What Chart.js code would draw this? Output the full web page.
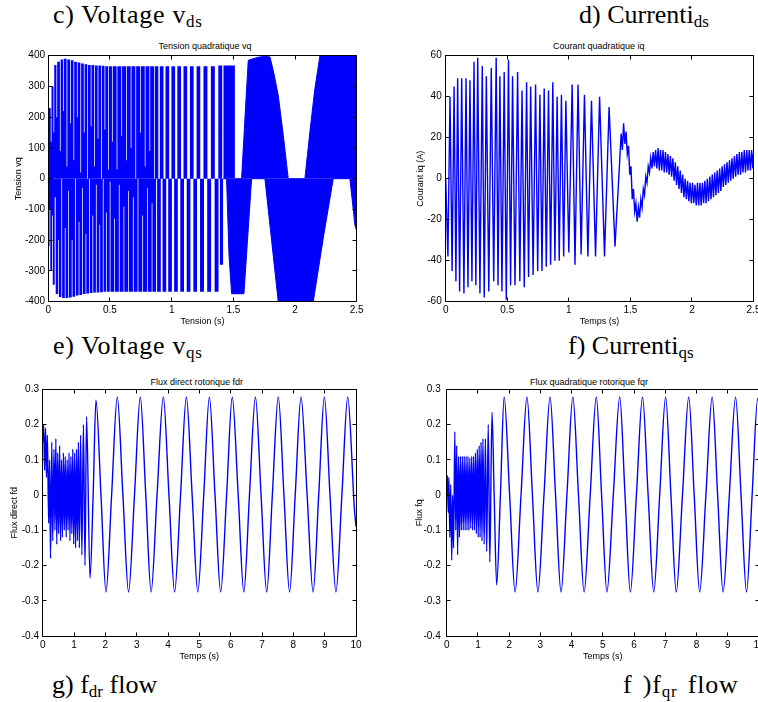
<!DOCTYPE html>
<html lang="fr">
<head>
<meta charset="utf-8">
<script src="https://cdn.jsdelivr.net/npm/chart.js@4.4.0/dist/chart.umd.min.js"></script>
<style>
  html, body { margin: 0; padding: 0; background: #fff; overflow: hidden; }
  #figure { position: relative; width: 758px; height: 702px; overflow: hidden; }
  canvas { position: absolute; }
  .legende { position: absolute; font-family: "Liberation Serif", "Times New Roman", serif; font-size: 26px; line-height: 26px; white-space: nowrap; color: #000; }
  .legende sub { font-size: 17px; vertical-align: -4px; line-height: 0; }
  .titre { position: absolute; width: 200px; font-family: "Liberation Sans", Arial, sans-serif; font-size: 9px; line-height: 9px; text-align: center; white-space: nowrap; color: #000; }
</style>
</head>
<body>
<div id="figure">
  <div class="legende" style="left:53px;top:2px;letter-spacing:0.7px">c) Voltage v<sub>ds</sub></div>
  <div class="legende" style="left:579px;top:2px">d) Currenti<sub>ds</sub></div>
  <div class="legende" style="left:53px;top:333px;letter-spacing:0.7px">e) Voltage v<sub>qs</sub></div>
  <div class="legende" style="left:568px;top:333px">f) Currenti<sub>qs</sub></div>
  <div class="legende" style="left:52px;top:672px">g) f<sub>dr</sub> flow</div>
  <div class="legende" style="left:623px;top:672px;letter-spacing:0.8px;word-spacing:3px">f )f<sub>qr</sub> flow</div>

  <div class="titre" style="left:105px;top:41.7px">Tension quadratique vq</div>
  <div class="titre" style="left:498.7px;top:41.7px">Courant quadratique iq</div>
  <div class="titre" style="left:96.7px;top:378.4px">Flux direct rotorique fdr</div>
  <div class="titre" style="left:489px;top:378.4px">Flux quadratique rotorique fqr</div>

  <canvas id="cVq" width="370" height="290" style="left:0;top:40px"></canvas>
  <canvas id="cIq" width="378" height="290" style="left:380px;top:40px"></canvas>
  <canvas id="cFdr" width="370" height="293" style="left:0;top:372px"></canvas>
  <canvas id="cFqr" width="379" height="293" style="left:380px;top:372px"></canvas>
</div>
<script>
const bleu = '#0000ff'
const police = "'Liberation Sans', Arial, sans-serif"

// tension vq, partie rapide (0 - 1.5 s) : bord haut / bord bas de la zone bleue, en marches
const tempsVqHaut = [
    0.000, 0.020, 0.026, 0.042, 0.048, 0.066, 0.072, 0.094, 0.100, 0.120,
    0.126, 0.148, 0.154, 0.176, 0.182, 0.204, 0.210, 0.232, 0.238, 0.260,
    0.266, 0.288, 0.294, 0.316, 0.322, 0.344, 0.350, 0.372, 0.378, 0.400,
    0.406, 0.428, 0.434, 0.456, 0.462, 0.484, 0.490, 0.516, 0.522, 0.554,
    0.560, 0.592, 0.598, 0.630, 0.636, 0.668, 0.674, 0.706, 0.712, 0.744,
    0.750, 0.782, 0.788, 0.820, 0.826, 0.858, 0.864, 0.892, 0.904, 0.934,
    0.950, 0.980, 0.998, 1.028, 1.046, 1.076, 1.096, 1.126, 1.148, 1.178,
    1.202, 1.232, 1.258, 1.290, 1.318, 1.350, 1.378, 1.410, 1.420, 1.513]
const vqHaut = [
    230, 120, 300, 150, 370, 200, 380, 90, 388, 220,
    390, 40, 388, 180, 385, 60, 380, 200, 378, 20,
    375, 150, 372, 0, 370, 170, 370, 40, 368, 130,
    368, 0, 367, 160, 366, 30, 366, 120, 366, 30,
    366, 140, 366, 60, 366, 100, 366, 0, 366, 150,
    366, 40, 366, 90, 366, 0, 366, 0, 366, 0,
    366, 0, 366, 0, 366, 0, 366, 0, 366, 0,
    366, 0, 366, 0, 366, 0, 368, 0, 368, 0]

const tempsVqBas = [
    0.000, 0.010, 0.016, 0.030, 0.036, 0.052, 0.060, 0.080, 0.086, 0.106,
    0.112, 0.134, 0.140, 0.162, 0.168, 0.190, 0.196, 0.218, 0.224, 0.246,
    0.252, 0.274, 0.280, 0.302, 0.308, 0.330, 0.336, 0.358, 0.364, 0.386,
    0.392, 0.414, 0.420, 0.442, 0.448, 0.470, 0.476, 0.498, 0.504, 0.534,
    0.540, 0.572, 0.578, 0.610, 0.616, 0.648, 0.654, 0.686, 0.692, 0.724,
    0.730, 0.762, 0.768, 0.800, 0.806, 0.838, 0.844, 0.874, 0.882, 0.912,
    0.926, 0.956, 0.972, 1.002, 1.020, 1.050, 1.070, 1.100, 1.122, 1.152,
    1.176, 1.206, 1.230, 1.262, 1.288, 1.320, 1.348, 1.380, 1.391, 1.418]
const vqBas = [
    -220, -100, -300, -120, -345, -60, -375, -200, -385, 0,
    -388, -160, -388, -40, -386, -200, -384, 0, -380, -140,
    -378, -30, -375, -180, -373, 0, -372, -120, -370, -20,
    -370, -150, -369, 0, -368, -110, -368, -10, -368, -130,
    -368, -20, -368, -90, -368, -40, -368, -60, -368, 0,
    -368, -120, -368, -30, -368, -80, -368, 0, -368, 0,
    -368, 0, -368, 0, -368, 0, -368, 0, -368, 0,
    -368, 0, -368, 0, -368, 0, -368, 0, -280, 0]

// tension vq, partie lente (1.4 - 2.5 s) : lobes positifs et negatifs
const tempsVqHautFin = [1.513, 1.567, 1.585, 1.603, 1.621, 1.700, 1.760, 1.797, 1.830, 1.864, 1.905, 1.945, 2.080, 2.120, 2.160, 2.202, 2.500]
const vqHautFin = [0, 0, 130, 260, 385, 395, 398, 396, 340, 271, 141, 0, 0, 150, 290, 400, 400]
const tempsVqBasFin = [1.418, 1.445, 1.465, 1.486, 1.586, 1.648, 1.756, 1.810, 1.864, 2.148, 2.230, 2.310, 2.445, 2.486, 2.500]
const vqBasFin = [0, 0, -250, -374, -374, 0, 0, -200, -400, -400, -190, 0, 0, -152, -170]

// courant iq (A)
const tempsIq = [
    0.000, 0.018, 0.035, 0.052, 0.068, 0.083, 0.097, 0.113, 0.130, 0.148,
    0.165, 0.181, 0.197, 0.213, 0.230, 0.245, 0.260, 0.278, 0.297, 0.313,
    0.330, 0.350, 0.370, 0.390, 0.410, 0.425, 0.440, 0.457, 0.475, 0.492,
    0.510, 0.527, 0.543, 0.563, 0.584, 0.602, 0.620, 0.638, 0.657, 0.673,
    0.690, 0.710, 0.730, 0.747, 0.765, 0.782, 0.800, 0.817, 0.835, 0.852,
    0.870, 0.887, 0.905, 0.922, 0.940, 0.958, 0.976, 1.000, 1.027, 1.050,
    1.075, 1.100, 1.127, 1.155, 1.184, 1.217, 1.250, 1.290, 1.327, 1.375,
    1.410, 1.425, 1.435, 1.445, 1.455, 1.465, 1.475, 1.485, 1.495, 1.505,
    1.515, 1.525, 1.535, 1.545, 1.555, 1.565, 1.575, 1.585, 1.595, 1.605,
    1.615, 1.625, 1.635, 1.645, 1.655, 1.665, 1.675, 1.685, 1.695, 1.705,
    1.715, 1.725, 1.735, 1.745, 1.755, 1.765, 1.775, 1.785, 1.795, 1.805,
    1.815, 1.825, 1.835, 1.845, 1.855, 1.865, 1.875, 1.885, 1.895, 1.905,
    1.915, 1.925, 1.935, 1.945, 1.955, 1.965, 1.975, 1.985, 1.995, 2.005,
    2.015, 2.025, 2.035, 2.045, 2.055, 2.065, 2.075, 2.085, 2.095, 2.105,
    2.115, 2.125, 2.135, 2.145, 2.155, 2.165, 2.175, 2.185, 2.195, 2.205,
    2.215, 2.225, 2.235, 2.245, 2.255, 2.265, 2.275, 2.285, 2.295, 2.305,
    2.315, 2.325, 2.335, 2.345, 2.355, 2.365, 2.375, 2.385, 2.395, 2.405,
    2.415, 2.425, 2.435, 2.445, 2.455, 2.465, 2.475, 2.485, 2.495, 2.500]
const iq = [
    0, -38, 40, -45, 45, -50, 49, -55, 49, -56,
    49, -53, 48, -50, 57, -52, 59, -56, 55, -58,
    50, -55, 54, -50, 59, -52, 50, -55, 52, -59,
    58, -52, 50, -52, 52, -50, 43, -53, 47, -48,
    45, -47, 46, -45, 41, -45, 44, -43, 43, -42,
    47, -40, 40, -40, 41, -38, 38, -36, 46, -42,
    46, -37, 41, -38, 38, -38, 40, -38, 35, -33,
    5, 22, 14, 27, 17, 23, 12, 16, 2, 6,
    -10, -5, -16, -12, -21, -14, -19, -10, -14, -5,
    -8, 1, -2, 6, 3, 10, 5, 13, 6, 14,
    5, 15, 4, 14, 4, 14, 3, 13, 3, 12,
    2, 11, 1, 10, -1, 8, -3, 6, -5, 4,
    -7, 2, -9, 0, -10, -1, -11, -2, -12, -2,
    -12, -3, -13, -2, -13, -2, -13, -2, -12, -1,
    -12, 0, -11, 1, -10, 2, -9, 3, -8, 4,
    -7, 5, -6, 6, -4, 7, -3, 8, -2, 9,
    -1, 10, 0, 11, 1, 12, 2, 13, 2, 13,
    3, 14, 3, 14, 4, 14, 4, 14, 5, 12]

// flux direct rotorique fdr
const tempsFdr = [
    0.00, 0.03, 0.06, 0.09, 0.12, 0.15, 0.19, 0.22, 0.25, 0.29,
    0.32, 0.36, 0.39, 0.42, 0.45, 0.48, 0.51, 0.54, 0.57, 0.60,
    0.63, 0.66, 0.69, 0.72, 0.75, 0.78, 0.81, 0.84, 0.87, 0.90,
    0.93, 0.96, 0.99, 1.02, 1.05, 1.08, 1.11, 1.14, 1.17, 1.21,
    1.25, 1.30, 1.35, 1.40, 1.51, 1.61, 1.70, 1.86, 2.02, 2.20,
    2.38, 2.56, 2.74, 2.93, 3.115, 3.29, 3.46, 3.65, 3.85, 4.03,
    4.21, 4.40, 4.585, 4.77, 4.95, 5.14, 5.32, 5.50, 5.68, 5.87,
    6.05, 6.24, 6.42, 6.60, 6.79, 6.97, 7.15, 7.33, 7.52, 7.70,
    7.88, 8.06, 8.245, 8.44, 8.63, 8.81, 8.99, 9.17, 9.36, 9.55,
    9.735, 9.95, 10.0]
const fdr = [
    0.15, 0.20, 0.07, 0.19, 0.05, 0.17, -0.08, 0.10, -0.18, 0.15,
    -0.13, 0.13, -0.10, 0.16, -0.14, 0.12, -0.11, 0.14, -0.13, 0.10,
    -0.12, 0.12, -0.10, 0.11, -0.12, 0.10, -0.10, 0.12, -0.13, 0.11,
    -0.11, 0.13, -0.14, 0.12, -0.15, 0.13, -0.13, 0.15, -0.15, 0.17,
    -0.17, 0.20, -0.20, 0.222, -0.236, 0, 0.27, 0, -0.275, 0,
    0.278, 0, -0.275, 0, 0.278, 0, -0.275, 0, 0.278, 0,
    -0.275, 0, 0.278, 0, -0.275, 0, 0.278, 0, -0.275, 0,
    0.278, 0, -0.275, 0, 0.278, 0, -0.275, 0, 0.278, 0,
    -0.275, 0, 0.278, 0, -0.275, 0, 0.278, 0, -0.275, 0,
    0.278, -0.04, -0.09]

// flux quadratique rotorique fqr
const tempsFqr = [
    0.00, 0.02, 0.05, 0.07, 0.10, 0.13, 0.16, 0.19, 0.22, 0.26,
    0.29, 0.32, 0.35, 0.38, 0.41, 0.44, 0.47, 0.50, 0.53, 0.56,
    0.59, 0.62, 0.65, 0.68, 0.71, 0.74, 0.77, 0.80, 0.83, 0.86,
    0.89, 0.92, 0.95, 0.98, 1.01, 1.04, 1.07, 1.10, 1.13, 1.16,
    1.20, 1.24, 1.28, 1.33, 1.38, 1.45, 1.52, 1.60, 1.72, 1.84,
    2.015, 2.19, 2.38, 2.57, 2.745, 2.92, 3.115, 3.31, 3.485, 3.66,
    3.85, 4.04, 4.22, 4.40, 4.595, 4.79, 4.96, 5.13, 5.335, 5.54,
    5.71, 5.88, 6.075, 6.27, 6.45, 6.63, 6.82, 7.01, 7.18, 7.35,
    7.55, 7.75, 7.925, 8.10, 8.30, 8.50, 8.675, 8.85, 9.05, 9.25,
    9.425, 9.60, 9.78, 9.96, 10.0]
const fqr = [
    0.0, 0.055, -0.05, 0.05, -0.12, 0.03, -0.185, 0.0, -0.15, 0.18,
    -0.10, 0.14, -0.17, 0.11, -0.12, 0.11, -0.10, 0.11, -0.10, 0.11,
    -0.10, 0.11, -0.10, 0.11, -0.10, 0.105, -0.095, 0.11, -0.10, 0.11,
    -0.10, 0.12, -0.11, 0.13, -0.12, 0.14, -0.12, 0.15, -0.13, 0.16,
    -0.14, 0.16, -0.16, 0.20, -0.19, 0.235, 0, -0.255, 0, 0.278,
    0, -0.275, 0, 0.278, 0, -0.275, 0, 0.278, 0, -0.275,
    0, 0.278, 0, -0.275, 0, 0.278, 0, -0.275, 0, 0.278,
    0, -0.275, 0, 0.278, 0, -0.275, 0, 0.278, 0, -0.275,
    0, 0.278, 0, -0.275, 0, 0.278, 0, -0.275, 0, 0.278,
    0, -0.275, 0, 0.275, 0.26]

function points(temps, valeurs) {
    return temps.map((t, i) => ({ x: t, y: valeurs[i] }))
}

// cadre noir + graduations vers l'interieur, comme matlab
const cadre = {
    id: 'cadre',
    afterDatasetsDraw(chart) {
        const { ctx, chartArea: a } = chart
        const { x, y } = chart.scales
        const g = Math.floor(a.left) + 0.5, d = Math.floor(a.right) + 0.5
        const h = Math.floor(a.top) + 0.5, b = Math.floor(a.bottom) + 0.5
        ctx.save()
        ctx.strokeStyle = '#000'
        ctx.lineWidth = 1
        ctx.beginPath()
        ctx.rect(g, h, d - g, b - h)
        x.ticks.forEach(t => {
            const px = Math.floor(x.getPixelForValue(t.value)) + 0.5
            ctx.moveTo(px, b); ctx.lineTo(px, b - 4)
            ctx.moveTo(px, h); ctx.lineTo(px, h + 4)
        })
        y.ticks.forEach(t => {
            const py = Math.floor(y.getPixelForValue(t.value)) + 0.5
            ctx.moveTo(g, py); ctx.lineTo(g + 4, py)
            ctx.moveTo(d, py); ctx.lineTo(d - 4, py)
        })
        ctx.stroke()
        ctx.restore()
    }
}

const etiquette = v => String(Math.round(v * 1000) / 1000)

function options(geo, ax, ay) {
    const fonteTicks = { family: police, size: 10 }
    const fonteTitre = { family: police, size: 9 }
    return {
        responsive: false,
        animation: false,
        devicePixelRatio: 1,
        layout: { padding: { top: geo.haut, right: geo.droite, left: 0, bottom: 0 } },
        elements: { point: { radius: 0 } },
        plugins: { legend: { display: false }, tooltip: { enabled: false }, title: { display: false } },
        scales: {
            x: {
                type: 'linear', min: ax.min, max: ax.max,
                grid: { display: false, drawTicks: false },
                border: { display: false },
                ticks: { stepSize: ax.pas, padding: 3, color: '#000', font: fonteTicks, maxRotation: 0, autoSkip: false, callback: etiquette },
                title: { display: true, text: ax.titre, color: '#000', font: fonteTitre, padding: { top: 0, bottom: 2.6 } },
                afterFit(s) { s.height = geo.hautX; s.paddingLeft = 0; s.paddingRight = 0 }
            },
            y: {
                type: 'linear', min: ay.min, max: ay.max,
                grid: { display: false, drawTicks: false },
                border: { display: false },
                ticks: { stepSize: ay.pas, padding: ay.padTicks, color: '#000', font: fonteTicks, autoSkip: false, callback: etiquette },
                title: { display: true, text: ay.titre, color: '#000', font: fonteTitre, padding: { top: ay.padTitre, bottom: 0 } },
                afterFit(s) { s.width = geo.largeY; s.paddingTop = 0; s.paddingBottom = 0 }
            }
        }
    }
}

const trace = (donnees, extra) => Object.assign({
    data: donnees, borderColor: bleu, backgroundColor: bleu, borderWidth: 1, pointRadius: 0, fill: false
}, extra)

new Chart(document.getElementById('cVq'), {
    type: 'line',
    data: { datasets: [
        trace(points(tempsVqHaut, vqHaut), { stepped: 'before', fill: 'origin', borderWidth: 0 }),
        trace(points(tempsVqBas, vqBas), { stepped: 'before', fill: 'origin', borderWidth: 0 }),
        trace(points(tempsVqHautFin, vqHautFin), { fill: 'origin' }),
        trace(points(tempsVqBasFin, vqBasFin), { fill: 'origin' })
    ] },
    options: options(
        { haut: 15.7, droite: 13.3, largeY: 48.3, hautX: 28.3 },
        { min: 0, max: 2.5, pas: 0.5, titre: 'Tension (s)' },
        { min: -400, max: 400, pas: 100, titre: 'Tension vq', padTicks: 3.3, padTitre: 13.4 }),
    plugins: [cadre]
})

new Chart(document.getElementById('cIq'), {
    type: 'line',
    data: { datasets: [trace(points(tempsIq, iq), { borderWidth: 1.4 })] },
    options: options(
        { haut: 15.7, droite: 4.5, largeY: 65.7, hautX: 28.3 },
        { min: 0, max: 2.5, pas: 0.5, titre: 'Temps (s)' },
        { min: -60, max: 60, pas: 20, titre: 'Courant iq (A)', padTicks: 4, padTitre: 35.1 }),
    plugins: [cadre]
})

new Chart(document.getElementById('cFdr'), {
    type: 'line',
    data: { datasets: [trace(points(tempsFdr, fdr), { cubicInterpolationMode: 'monotone', borderWidth: 1.4 })] },
    options: options(
        { haut: 17.3, droite: 14, largeY: 42.7, hautX: 29 },
        { min: 0, max: 10, pas: 1, titre: 'Temps (s)' },
        { min: -0.4, max: 0.3, pas: 0.1, titre: 'Flux direct fd', padTicks: 3.7, padTitre: 8.8 }),
    plugins: [cadre]
})

new Chart(document.getElementById('cFqr'), {
    type: 'line',
    data: { datasets: [trace(points(tempsFqr, fqr), { cubicInterpolationMode: 'monotone', borderWidth: 1.4 })] },
    options: options(
        { haut: 17.3, droite: 0, largeY: 66.7, hautX: 29 },
        { min: 0, max: 10, pas: 1, titre: 'Temps (s)' },
        { min: -0.4, max: 0.3, pas: 0.1, titre: 'Flux fq', padTicks: 6, padTitre: 34.3 }),
    plugins: [cadre]
})
</script>
</body>
</html>
